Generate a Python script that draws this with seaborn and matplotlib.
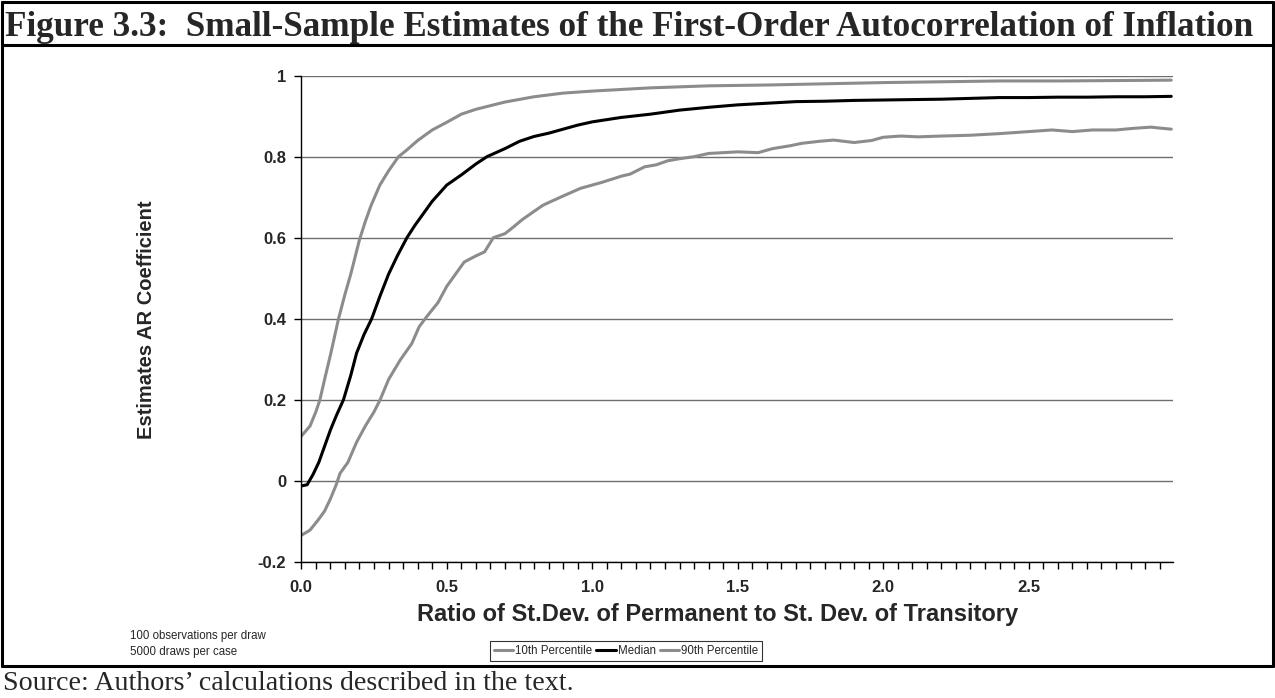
"""
plot.py - Small-sample estimates of the first-order autocorrelation of inflation
"""

import numpy as np
import pandas as pd
import matplotlib
matplotlib.use("Agg")
import matplotlib.pyplot as plt
from matplotlib.lines import Line2D
import seaborn as sns

# ─── Data ─────────────────────────────────────────────────────────────────────
X_P10 = [0.00, 0.03, 0.06, 0.08, 0.10, 0.12, 0.133, 0.16, 0.19, 0.22, 0.25, 0.271,
         0.30, 0.34, 0.38, 0.405, 0.431, 0.47, 0.50, 0.53, 0.56, 0.60, 0.63, 0.66,
         0.70, 0.73, 0.76, 0.79, 0.83, 0.86, 0.90, 0.96, 1.00, 1.03, 1.07, 1.10,
         1.13, 1.18, 1.22, 1.26, 1.30, 1.35, 1.40, 1.45, 1.50, 1.57, 1.62, 1.68,
         1.72, 1.78, 1.83, 1.90, 1.96, 2.00, 2.06, 2.12, 2.20, 2.30, 2.40, 2.50,
         2.58, 2.65, 2.72, 2.80, 2.86, 2.92, 2.96, 2.99]
Y_P10 = [-0.135, -0.122, -0.095, -0.075, -0.045, -0.010, 0.018, 0.045, 0.095, 0.135,
         0.170, 0.200, 0.250, 0.298, 0.339, 0.380, 0.405, 0.440, 0.480, 0.510,
         0.540, 0.555, 0.565, 0.600, 0.610, 0.627, 0.645, 0.660, 0.680, 0.690,
         0.703, 0.722, 0.730, 0.736, 0.745, 0.752, 0.757, 0.775, 0.780, 0.790,
         0.795, 0.800, 0.808, 0.810, 0.812, 0.810, 0.820, 0.827, 0.833, 0.838,
         0.841, 0.835, 0.840, 0.848, 0.851, 0.849, 0.851, 0.853, 0.857, 0.862,
         0.866, 0.862, 0.866, 0.866, 0.870, 0.873, 0.870, 0.868]

X_MED = [0.00, 0.02, 0.04, 0.06, 0.08, 0.10, 0.12, 0.145, 0.17, 0.19, 0.215, 0.242,
         0.27, 0.30, 0.33, 0.363, 0.39, 0.42, 0.45, 0.50, 0.55, 0.60, 0.638, 0.70,
         0.75, 0.80, 0.85, 0.90, 0.95, 1.00, 1.10, 1.20, 1.30, 1.40, 1.50, 1.60,
         1.70, 1.80, 1.90, 2.00, 2.10, 2.20, 2.30, 2.40, 2.50, 2.60, 2.70, 2.80,
         2.90, 2.99]
Y_MED = [-0.013, -0.010, 0.015, 0.045, 0.085, 0.125, 0.160, 0.200, 0.260, 0.315,
         0.360, 0.400, 0.455, 0.510, 0.555, 0.600, 0.630, 0.660, 0.690, 0.730,
         0.755, 0.782, 0.800, 0.820, 0.838, 0.850, 0.858, 0.868, 0.878, 0.886,
         0.897, 0.905, 0.915, 0.922, 0.928, 0.932, 0.936, 0.937, 0.939, 0.940,
         0.941, 0.942, 0.944, 0.946, 0.946, 0.947, 0.947, 0.948, 0.948, 0.949]

X_P90 = [0.00, 0.03, 0.05, 0.064, 0.08, 0.10, 0.128, 0.15, 0.17, 0.20, 0.22, 0.24,
         0.27, 0.30, 0.334, 0.36, 0.40, 0.45, 0.50, 0.55, 0.60, 0.70, 0.80, 0.90,
         1.00, 1.20, 1.40, 1.60, 1.80, 2.00, 2.20, 2.40, 2.60, 2.80, 2.99]
Y_P90 = [0.110, 0.135, 0.170, 0.200, 0.250, 0.310, 0.400, 0.460, 0.510, 0.595,
         0.640, 0.680, 0.730, 0.765, 0.800, 0.815, 0.840, 0.866, 0.885, 0.905,
         0.917, 0.935, 0.948, 0.957, 0.962, 0.970, 0.975, 0.977, 0.980, 0.983,
         0.985, 0.987, 0.987, 0.988, 0.989]

SERIES = ["10th Percentile", "Median", "90th Percentile"]
COLORS = ["#8c8c8c", "#000000", "#8c8c8c"]

Y_TICKS = [-0.2, 0, 0.2, 0.4, 0.6, 0.8, 1]
Y_TICK_LABELS = ["-0.2", "0", "0.2", "0.4", "0.6", "0.8", "1"]
X_TICKS = [0.0, 0.5, 1.0, 1.5, 2.0, 2.5]
X_TICK_LABELS = ["0.0", "0.5", "1.0", "1.5", "2.0", "2.5"]

TITLE = "Figure 3.3:  Small-Sample Estimates of the First-Order Autocorrelation of Inflation"
SOURCE = "Source: Authors\u2019 calculations described in the text."
NOTES = "100 observations per draw\n5000 draws per case"

df = pd.concat([
    pd.DataFrame({"x": X_P10, "y": Y_P10, "series": SERIES[0]}),
    pd.DataFrame({"x": X_MED, "y": Y_MED, "series": SERIES[1]}),
    pd.DataFrame({"x": X_P90, "y": Y_P90, "series": SERIES[2]}),
], ignore_index=True)

# ─── Figure ───────────────────────────────────────────────────────────────────
sns.set_theme(style="white")
plt.rcParams["font.family"] = ["Liberation Sans", "DejaVu Sans"]
SERIF = ["Liberation Serif", "DejaVu Serif"]

W, H = 1275, 698
fig = plt.figure(figsize=(W / 100, H / 100), dpi=100)
fig.patch.set_facecolor("white")

def fx(px):
    return px / W

def fy(py):
    return 1 - py / H

ax = fig.add_axes([fx(301.3), fy(561.7), fx(1172.7) - fx(301.3), fy(75.7) - fy(561.7)])

sns.lineplot(data=df, x="x", y="y", hue="series", hue_order=SERIES,
             palette=dict(zip(SERIES, COLORS)), linewidth=2.2, sort=False,
             estimator=None, ax=ax, legend=False)

ax.set_xlim(0, 2.995)
ax.set_ylim(-0.2, 1)
ax.set_yticks(Y_TICKS)
ax.set_yticklabels(Y_TICK_LABELS, fontweight="bold", fontsize=12)
ax.set_xticks(X_TICKS)
ax.set_xticklabels(X_TICK_LABELS, fontweight="bold", fontsize=12)
ax.set_xticks(np.arange(0, 3.0, 0.05), minor=True)
ax.tick_params(axis="x", which="both", direction="out", length=5, width=1,
               color="black", bottom=True, pad=8)
ax.tick_params(axis="y", which="major", direction="out", length=5, width=1,
               color="black", left=True, pad=6)
ax.yaxis.grid(True, color="#6e6e6e", linewidth=1.0)
ax.xaxis.grid(False)
ax.set_axisbelow(True)
for side in ["top", "right"]:
    ax.spines[side].set_visible(False)
for side in ["left", "bottom"]:
    ax.spines[side].set_color("black")
    ax.spines[side].set_linewidth(1.0)

ax.set_xlabel("")
ax.set_ylabel("")
fig.text(fx(718), fy(614), "Ratio of St.Dev. of Permanent to St. Dev. of Transitory",
         fontweight="bold", fontsize=17, ha="center", va="center")
fig.text(fx(146), fy(320), "Estimates AR Coefficient", fontweight="bold",
         fontsize=14.5, rotation=90, ha="center", va="center")

# legend
handles = [Line2D([], [], color=c, linewidth=2.2) for c in COLORS]
leg = fig.legend(handles, SERIES, loc="center", bbox_to_anchor=(fx(626), fy(651)),
                 ncol=3, fontsize=8.3, frameon=True, fancybox=False,
                 handlelength=1.7, handletextpad=0.15, columnspacing=0.35,
                 borderpad=0.35, borderaxespad=0)
leg.get_frame().set_edgecolor("black")
leg.get_frame().set_linewidth(0.8)

# notes + frame
fig.text(fx(130), fy(644), NOTES, fontsize=8.3, va="center", ha="left",
         linespacing=1.35)
fig.text(fx(5), fy(36), TITLE, fontsize=25.3, fontweight="bold",
         family=SERIF, va="baseline", ha="left")
fig.text(fx(3), fy(683), SOURCE, fontsize=20.2, family=SERIF,
         va="center", ha="left")

lw = 2.2
for (x0, y0, x1, y1) in [(2, 2, 1273, 2), (2, 45, 1273, 45), (2, 666, 1273, 666),
                         (2, 2, 2, 666), (1273, 2, 1273, 666)]:
    fig.add_artist(Line2D([fx(x0), fx(x1)], [fy(y0), fy(y1)], color="black",
                          linewidth=lw, transform=fig.transFigure))

fig.savefig("out.png", dpi=100, facecolor="white")
plt.close(fig)
